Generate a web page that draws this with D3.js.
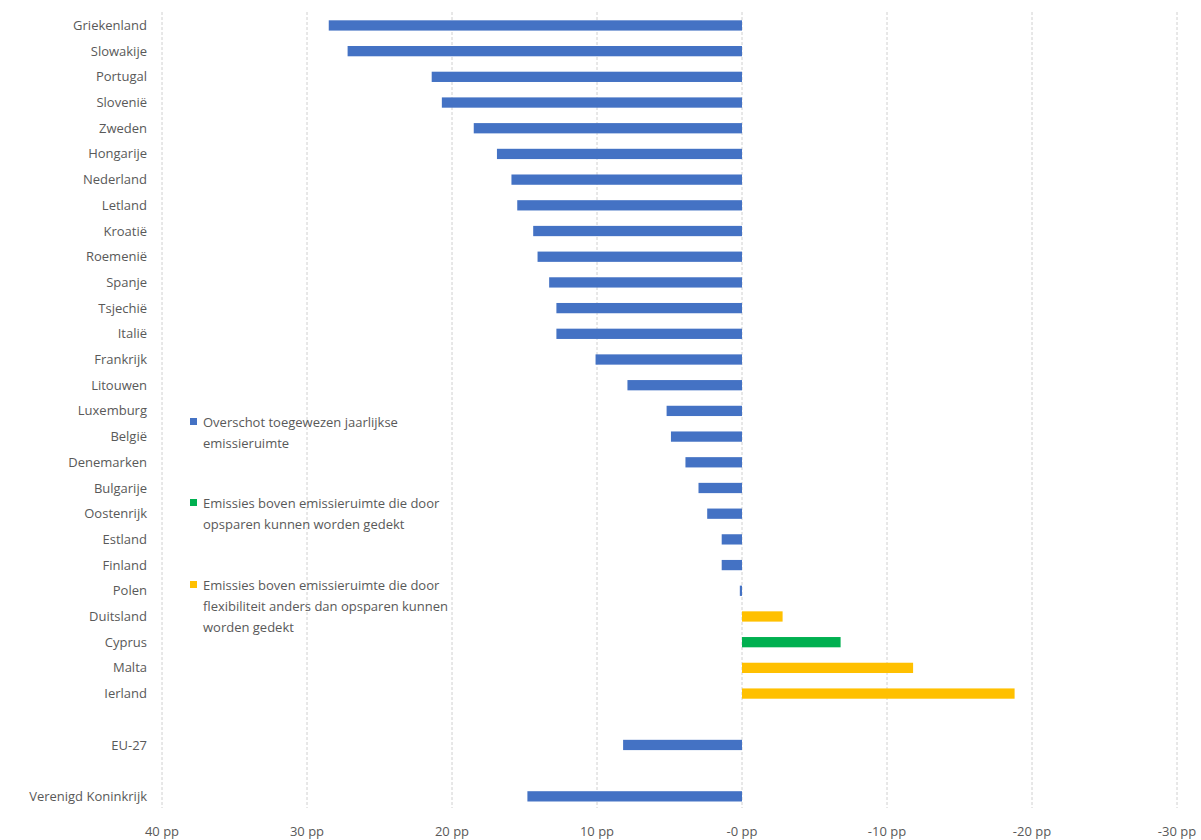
<!DOCTYPE html>
<html>
<head>
<meta charset="utf-8">
<script src="https://cdn.jsdelivr.net/npm/d3@7"></script>
<style>
  body { margin: 0; background: #fff; }
  svg text { font-family: "Open Sans", "Noto Sans", sans-serif; fill: #595959; }
</style>
</head>
<body>
<svg id="chart" width="1201" height="840"></svg>
<script>
// categories, blank strings are the empty rows in the chart
const countries = ['Griekenland', 'Slowakije', 'Portugal', 'Slovenië', 'Zweden', 'Hongarije',
    'Nederland', 'Letland', 'Kroatië', 'Roemenië', 'Spanje', 'Tsjechië', 'Italië', 'Frankrijk',
    'Litouwen', 'Luxemburg', 'België', 'Denemarken', 'Bulgarije', 'Oostenrijk', 'Estland',
    'Finland', 'Polen', 'Duitsland', 'Cyprus', 'Malta', 'Ierland', '', 'EU-27', ' ', 'Verenigd Koninkrijk'];

// overschot (blue)
const surplus = [28.5, 27.2, 21.4, 20.7, 18.5, 16.9, 15.9, 15.5, 14.4, 14.1, 13.3, 12.8, 12.8, 10.1,
    7.9, 5.2, 4.9, 3.9, 3.0, 2.4, 1.4, 1.4, 0.15, 0, 0, 0, 0, 0, 8.2, 0, 14.8];
// door opsparen gedekt (green)
const banking = [0, 0, 0, 0, 0, 0, 0, 0, 0, 0, 0, 0, 0, 0, 0, 0, 0, 0, 0, 0, 0, 0, 0, 0, -6.8, 0, 0, 0, 0, 0, 0];
// door flexibiliteit gedekt (yellow)
const flexibility = [0, 0, 0, 0, 0, 0, 0, 0, 0, 0, 0, 0, 0, 0, 0, 0, 0, 0, 0, 0, 0, 0, 0, -2.8, 0, -11.8, -18.8, 0, 0, 0, 0];

const ticks = [40, 30, 20, 10, 0, -10, -20, -30];

const series = [
    { name: 'Overschot toegewezen jaarlijkse|emissieruimte', values: surplus, color: '#4472C4' },
    { name: 'Emissies boven emissieruimte die door|opsparen kunnen worden gedekt', values: banking, color: '#00B050' },
    { name: 'Emissies boven emissieruimte die door|flexibiliteit anders dan opsparen kunnen|worden gedekt', values: flexibility, color: '#FFC000' }
];

const svg = d3.select('#chart');

const x = d3.scaleLinear().domain([40, -30]).range([162, 1177]);
const y = d3.scaleBand().domain(countries).range([12.6, 809.2]).paddingInner(0.6).paddingOuter(0.3);

// gridlines
svg.append('g')
    .selectAll('line')
    .data(ticks)
    .join('line')
    .attr('x1', d => x(d)).attr('x2', d => x(d))
    .attr('y1', 12).attr('y2', 808)
    .attr('stroke', '#d0d0d0')
    .attr('stroke-dasharray', '3,2');

// tick labels
svg.append('g')
    .selectAll('text')
    .data(ticks)
    .join('text')
    .attr('x', d => x(d))
    .attr('y', 836)
    .attr('text-anchor', 'middle')
    .attr('font-size', 13)
    .text(d => (d === 0 ? '-0' : d) + ' pp');

// category labels
svg.append('g')
    .selectAll('text')
    .data(countries)
    .join('text')
    .attr('x', 147)
    .attr('y', d => y(d) + y.bandwidth() / 2)
    .attr('dy', '0.35em')
    .attr('text-anchor', 'end')
    .attr('font-size', 13)
    .text(d => d.trim());

// bars
series.forEach(s => {
    svg.append('g')
        .selectAll('rect')
        .data(s.values.map((v, i) => ({ v, c: countries[i] })).filter(d => d.v !== 0))
        .join('rect')
        .attr('x', d => Math.min(x(d.v), x(0)))
        .attr('width', d => Math.abs(x(d.v) - x(0)))
        .attr('y', d => y(d.c))
        .attr('height', y.bandwidth())
        .attr('fill', s.color);
});

// legend
const legendY = [422, 503, 585];
series.forEach((s, i) => {
    const g = svg.append('g').attr('transform', `translate(190,${legendY[i]})`);
    g.append('rect').attr('x', 0).attr('y', -4).attr('width', 7).attr('height', 7).attr('fill', s.color);
    g.append('text')
        .attr('x', 13)
        .attr('font-size', 13)
        .selectAll('tspan')
        .data(s.name.split('|'))
        .join('tspan')
        .attr('x', 13)
        .attr('y', (d, j) => j * 21)
        .attr('dy', '0.35em')
        .text(d => d);
});
</script>
</body>
</html>
